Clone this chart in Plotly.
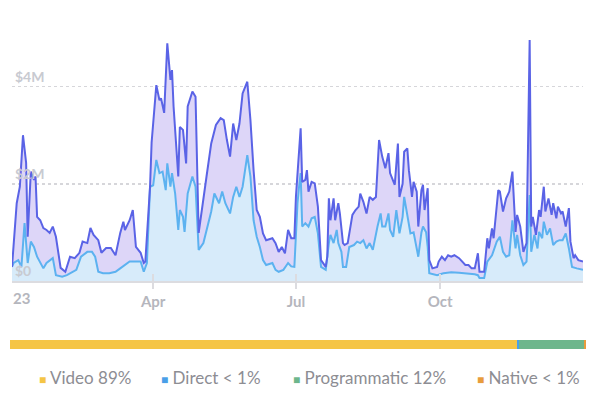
import pandas as pd
import plotly.graph_objects as go

# ---- data (values in $M, day offsets from 2023-01-01) ----
outer_day = [0,3,5,7,9,10,12,14,15,16,18,20,22,24,26,28,31,34,37,40,43,45,48,50,52,55,57,60,63,66,
             69,71,72,75,77,79,82,84,85,88,89,92,94,95,97,99,101,102,103,106,107,109,111,112,115,117,119,122,124,127,
             130,133,135,137,139,141,143,145,147,150,152,154,156,158,160,162,166,168,170,172,174,176,178,180,181,184,185,187,188,189,
             191,193,195,197,200,201,202,203,205,206,208,209,211,212,214,217,219,221,222,224,226,228,230,232,234,236,238,240,241,244,
             246,247,249,250,252,253,255,256,258,259,261,262,263,265,266,268,271,272,274,276,278,280,282,285,287,289,291,293,295,297,
             298,301,303,304,306,307,310,311,313,315,317,319,321,322,324,326,328,330,331,332,334,336,337,339,340,342,344,345,347,348,
             350,351,353,355,356,358,359,361,364]
outer_val = [0.29,1.6,1.94,3.0,2.43,0.91,2.25,2.08,2.15,1.32,1.25,1.09,1.05,0.99,1.12,0.91,0.27,0.19,0.5,0.47,0.58,0.81,0.78,1.09,0.95,0.84,0.58,0.68,0.68,0.53,
             0.99,1.22,1.05,1.25,1.46,0.7,0.58,0.37,0.40,1.94,2.85,4.03,3.72,3.76,3.46,4.89,4.14,4.34,3.59,2.15,3.17,3.11,2.42,3.59,3.9,3.79,0.99,1.73,2.15,2.83,
             3.21,3.35,3.31,2.9,2.56,3.24,2.9,3.24,3.86,4.1,3.31,2.28,1.46,1.32,0.98,0.84,0.88,0.78,0.6,0.7,0.57,1.05,0.88,0.88,1.73,3.14,2.04,2.08,2.28,1.84,
             2.04,2.01,1.53,0.43,0.29,0.5,1.7,1.25,1.7,1.25,1.6,1.39,0.78,0.74,0.78,1.36,1.46,1.53,1.8,1.63,1.39,1.73,1.67,1.73,2.9,2.56,2.32,2.63,2.22,1.98,
             2.83,1.73,2.0,2.66,2.73,2.28,1.73,2.04,1.84,1.12,1.87,1.98,1.46,1.91,0.43,0.26,0.29,0.4,0.5,0.43,0.53,0.5,0.53,0.47,0.4,0.33,0.33,0.26,0.26,0.57,
             0.19,0.19,0.88,0.67,1.08,0.88,1.87,1.84,1.43,1.7,1.84,2.25,1.01,1.36,1.12,0.6,0.78,4.96,1.12,1.32,0.95,1.46,1.32,1.94,1.43,1.7,1.36,1.6,1.29,1.53,
             1.39,1.43,1.12,1.5,0.81,0.47,0.53,0.43,0.4]

inner_day = [0,1,4,6,8,9,10,12,14,16,18,20,22,24,26,28,32,35,38,41,44,48,51,53,55,58,62,66,69,72,
             75,78,82,84,86,88,90,92,94,96,98,99,101,102,104,106,107,109,110,112,115,117,119,122,124,127,129,132,134,136,
             139,141,143,145,147,150,152,154,156,158,160,162,166,168,170,173,176,178,180,181,182,183,184,185,187,189,191,193,195,197,
             200,202,203,205,207,208,210,211,213,215,218,220,222,224,226,228,230,233,235,236,238,240,241,243,245,247,249,250,252,254,
             256,257,259,261,262,264,265,266,271,275,280,285,290,295,297,298,301,303,306,309,311,313,315,317,319,321,322,324,326,328,
             330,331,333,335,336,338,339,341,343,345,347,349,351,353,355,357,360,364]
inner_val = [0.29,0.37,0.43,0.29,1.19,0.78,0.37,0.81,0.7,0.5,0.37,0.26,0.37,0.43,0.47,0.12,0.09,0.12,0.17,0.23,0.5,0.6,0.6,0.5,0.19,0.16,0.16,0.19,0.26,0.33,
             0.4,0.4,0.4,0.19,0.37,1.94,1.97,2.49,2.22,2.25,1.87,2.42,1.94,2.22,1.8,1.05,1.46,1.32,1.01,1.8,2.15,1.94,0.64,0.78,1.05,1.43,1.8,1.6,1.84,1.6,
             1.39,1.73,1.94,1.73,1.94,2.59,2.15,1.25,0.91,0.7,0.43,0.33,0.37,0.23,0.19,0.23,0.37,0.3,0.29,1.05,1.6,1.94,2.22,1.12,1.19,1.12,1.29,1.32,0.98,0.29,
             0.23,0.78,0.95,0.78,1.05,0.78,0.6,0.29,0.29,0.7,0.74,0.81,0.78,0.84,0.67,0.78,0.64,1.12,1.39,1.12,1.12,1.39,1.05,0.91,1.46,0.98,1.32,1.73,1.39,0.98,
             1.0,0.84,0.5,1.0,1.12,1.0,0.7,0.16,0.12,0.16,0.18,0.17,0.16,0.14,0.12,0.06,0.06,0.4,0.53,0.81,0.91,0.6,0.5,0.53,1.25,0.67,0.95,0.53,0.33,0.4,
             1.77,0.6,0.95,0.67,1.01,0.88,1.22,0.95,1.08,0.74,0.81,0.84,0.84,0.98,0.67,0.29,0.26,0.23]

y_tick_vals = [0, 2, 4]
y_tick_text = ["$0", "$2M", "$4M"]
x_tick_dates = ["2023-01-01", "2023-04-01", "2023-07-01", "2023-10-01"]
x_tick_text = ["23", "Apr", "Jul", "Oct"]

mix_names = ["Video", "Direct", "Programmatic", "Native"]
mix_share = [88.0, 0.4, 11.3, 0.3]
mix_label = ["89%", "< 1%", "12%", "< 1%"]
mix_colors = ["#f5c545", "#4a9fe8", "#6db68c", "#e89c3c"]

start = pd.Timestamp("2023-01-01")
outer_x = start + pd.to_timedelta(outer_day, unit="D")
inner_x = start + pd.to_timedelta(inner_day, unit="D")

fig = go.Figure()
fig.add_trace(go.Scatter(x=inner_x, y=inner_val, mode="lines", fill="tozeroy",
                         line=dict(color="#5cb2f0", width=2), fillcolor="#d7ebfa",
                         hoverinfo="skip", showlegend=False, xaxis="x", yaxis="y"))
fig.add_trace(go.Scatter(x=outer_x, y=outer_val, mode="lines", fill="tonexty",
                         line=dict(color="#5a63e6", width=2), fillcolor="#ddd6f8",
                         hoverinfo="skip", showlegend=False, xaxis="x", yaxis="y"))

for n, s, c in zip(mix_names, mix_share, mix_colors):
    fig.add_trace(go.Bar(x=[s], y=[0], orientation="h", marker=dict(color=c, line=dict(width=0)),
                         width=1, hoverinfo="skip", showlegend=False, xaxis="x2", yaxis="y2"))

# invisible trace so the overlay axis (upper halves of tick marks) is drawn
fig.add_trace(go.Scatter(x=[x_tick_dates[0]], y=[0], xaxis="x3", yaxis="y",
                         mode="markers", marker=dict(opacity=0, size=1),
                         showlegend=False, hoverinfo="skip"))

L, R, T, B = 10, 14, 38, 10
W, H = 600, 399
pw, ph = W - L - R, H - T - B
def px_x(p): return (p - L) / pw
def px_y(p): return (H - B - p) / ph

legend_left = [37, 159, 291, 475]
annotations = []
for n, lab, c, lx in zip(mix_names, mix_label, mix_colors, legend_left):
    annotations.append(dict(
        x=px_x(lx), y=px_y(377), xref="paper", yref="paper", xanchor="left", yanchor="middle",
        showarrow=False,
        text=f"<span style='color:{c};font-size:12px'>■</span> {n} {lab}",
        font=dict(family="Lato", size=17, color="#8d8d93")))

tick_font = dict(family="Lato", size=15, color="#b5b6bd", weight="bold")
# first tick label sits to the right of its tick (as in the reference)
annotations.append(dict(x=x_tick_dates[0], xref="x", y=px_y(298), yref="paper",
                        xanchor="left", yanchor="middle", xshift=-1, showarrow=False,
                        text=x_tick_text[0], font=tick_font))

fig.update_layout(
    width=W, height=H, margin=dict(l=L, r=R, t=T, b=B, autoexpand=False),
    paper_bgcolor="white", plot_bgcolor="white",
    barmode="stack", bargap=0,
    xaxis=dict(domain=[px_x(12), px_x(583)], type="date",
               range=["2023-01-01", "2023-12-31"],
               tickvals=x_tick_dates, ticktext=[""] + x_tick_text[1:],
               showgrid=False, zeroline=False,
               showline=True, linecolor="#dcdce0", linewidth=2,
               ticks="outside", ticklen=6, tickwidth=2, tickcolor="#dcdce0",
               tickfont=tick_font, anchor="y", fixedrange=True),
    xaxis3=dict(overlaying="x", type="date", range=["2023-01-01", "2023-12-31"],
                tickvals=x_tick_dates, ticks="inside", ticklen=7, tickwidth=2, tickcolor="#dcdce0",
                showticklabels=False, showgrid=False, zeroline=False, showline=False,
                anchor="y", side="bottom", fixedrange=True),
    yaxis=dict(domain=[px_y(281), 1], range=[0, 5.0],
               tickvals=y_tick_vals, ticktext=y_tick_text,
               ticklabelposition="inside top",
               showgrid=True, gridcolor="#d6d6da", gridwidth=1.5, griddash="dot",
               zeroline=False, showline=False, ticks="",
               tickfont=dict(family="Lato", size=14, color="#c8cad1", weight="bold"),
               anchor="x", fixedrange=True),
    xaxis2=dict(domain=[0, 1], range=[0, 100], visible=False, anchor="y2", fixedrange=True),
    yaxis2=dict(domain=[px_y(349), px_y(340)], range=[-0.5, 0.5], visible=False, anchor="x2", fixedrange=True),
    annotations=annotations,
)

fig.write_html("out.html", config={"displayModeBar": False, "staticPlot": True},
               post_script="document.body.style.margin='0';")
